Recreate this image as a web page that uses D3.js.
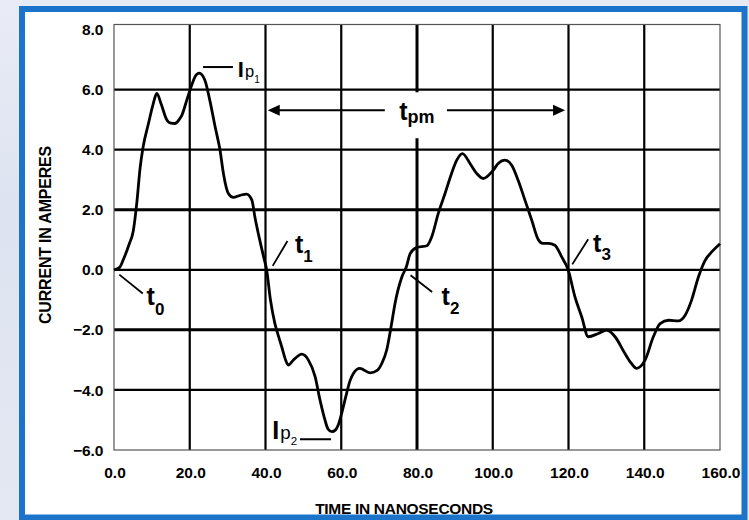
<!DOCTYPE html>
<meta charset="utf-8">

<!-- Load d3.js -->
<script src="https://cdn.jsdelivr.net/npm/d3@7/dist/d3.min.js"></script>

<style>
  body { margin: 0; background: #e7ebf5; }
  svg text { font-family: "Liberation Sans", Arial, sans-serif; fill: #000; }
</style>

<div id="my_dataviz"></div>

<script>

// waveform: time (ns) and current (A)
var timeNs = [0, 1.5, 2.5, 4, 5.1, 6, 6.9, 7.7, 9.1, 10.3, 11.3, 12.5, 13.9, 15, 16.1, 17.2, 17.9,
  19.2, 20.5, 21.5, 22.5, 24, 25.3, 26.7, 28, 28.9, 30.2, 31.5, 33.3, 35, 36.4, 37.2, 38.5, 39.6,
  40.3, 41.3, 42.5, 43.4, 44.3, 45.3, 46, 47.3, 49.6, 51.3, 53.1, 54.4, 55.7, 56.5, 57.5, 58.5,
  59.2, 60.1, 61.4, 62.3, 63.2, 64.9, 67.6, 69.5, 70.7, 72, 73.3, 74.2, 76, 77.2, 78.2, 79.9,
  82.6, 83.9, 85.6, 87.4, 89.1, 90.5, 92, 94, 95.8, 97.5, 100.1, 101.5, 103.2, 105, 106.7, 108.5,
  110.3, 112, 113.2, 114.7, 116.4, 118.2, 119.9, 121.7, 123.5, 125.2, 127.9, 130.1, 132.3, 134.9,
  136.5, 138, 140.2, 142.4, 144.2, 146.4, 149, 150.8, 152.5, 154.3, 156, 158, 160];
var currentA = [0, 0.08, 0.35, 0.85, 1.3, 2.2, 3.4, 4.1, 4.87, 5.5, 5.87, 5.5, 5.0, 4.88, 4.87, 5.0, 5.14,
  5.64, 6.14, 6.45, 6.55, 6.31, 5.64, 4.76, 3.98, 3.2, 2.54, 2.41, 2.48, 2.52, 2.32, 1.76, 0.98, 0.38,
  0, -1.0, -1.8, -2.2, -2.57, -3.0, -3.17, -3.01, -2.81, -3.0, -3.56, -4.34, -5.0, -5.3, -5.39, -5.33,
  -5.17, -4.78, -4.12, -3.7, -3.45, -3.28, -3.43, -3.35, -3.12, -2.67, -1.79, -1.12, -0.24, 0.1, 0.54, 0.74,
  0.8, 1.1, 1.87, 2.54, 3.2, 3.65, 3.87, 3.54, 3.2, 3.04, 3.31, 3.55, 3.65, 3.48, 2.98, 2.32,
  1.65, 1.01, 0.88, 0.88, 0.82, 0.43, 0, -0.9, -1.57, -2.23, -2.12, -2.01, -2.23, -2.79,
  -3.1, -3.28, -3.01, -2.23, -1.79, -1.68, -1.7, -1.51, -1.01, -0.24, 0.3, 0.62, 0.87];

var xTicks = [0, 20, 40, 60, 80, 100, 120, 140, 160];
var yTicks = [-6, -4, -2, 0, 2, 4, 6, 8];

// set the dimensions and margins of the graph
var W = 749, H = 520;
var margin = {top: 29.5, right: 29, bottom: 70, left: 114},
  width = W - margin.left - margin.right,
  height = H - margin.top - margin.bottom;

var xScale = d3.scaleLinear().domain([0, 160]).range([0, width]);
var yScale = d3.scaleLinear().domain([-6, 8]).range([height, 0]);

var root = d3.select("#my_dataviz")
  .append("svg")
    .attr("width", W)
    .attr("height", H);

// soft backdrop on the left strip
var grad = root.append("defs").append("linearGradient")
    .attr("id", "strip").attr("x1", 0).attr("y1", 0).attr("x2", 0).attr("y2", 1);
grad.append("stop").attr("offset", "0%").attr("stop-color", "#e9ecf6");
grad.append("stop").attr("offset", "40%").attr("stop-color", "#dde3f0");
grad.append("stop").attr("offset", "100%").attr("stop-color", "#e4e8f3");
root.append("rect")
    .attr("x", 0).attr("y", 0).attr("width", 22).attr("height", H)
    .style("fill", "url(#strip)");

// blue frame
root.append("rect")
    .attr("x", 22).attr("y", 9)
    .attr("width", 722.5).attr("height", 508.5)
    .style("fill", "#fff")
    .style("stroke", "#1b74c9")
    .style("stroke-width", 6);

var svg = root.append("g")
    .attr("transform", "translate(" + margin.left + "," + margin.top + ")");

// grid (a few lines come out heavier in the scan)
svg.selectAll(".vgrid")
  .data(xTicks.slice(1, -1))
  .enter().append("line")
    .attr("x1", function(d) { return xScale(d) })
    .attr("x2", function(d) { return xScale(d) })
    .attr("y1", -5).attr("y2", height)
    .style("stroke", "#000")
    .style("stroke-width", function(d) { return d == 80 ? 3 : 2.2 });

svg.selectAll(".hgrid")
  .data(yTicks.slice(1, -1))
  .enter().append("line")
    .attr("x1", 0).attr("x2", width)
    .attr("y1", function(d) { return yScale(d) })
    .attr("y2", function(d) { return yScale(d) })
    .style("stroke", "#000")
    .style("stroke-width", function(d) { return Math.abs(d) == 2 ? 3 : 2.2 });

svg.append("rect")
    .attr("x", 0).attr("y", -5)
    .attr("width", width).attr("height", height + 5)
    .style("fill", "none")
    .style("stroke", "#555")
    .style("stroke-width", 1.2);

// tick labels
svg.selectAll(".ylab")
  .data(yTicks)
  .enter().append("text")
    .attr("x", -10.5)
    .attr("y", function(d) { return yScale(d) })
    .attr("dy", "0.36em")
    .style("text-anchor", "end")
    .style("font-size", "15.5px")
    .style("font-weight", "bold")
    .text(function(d) { return d3.format(".1f")(d) });

svg.selectAll(".xlab")
  .data(xTicks)
  .enter().append("text")
    .attr("x", function(d) { return xScale(d) + 1 })
    .attr("y", height + 28)
    .style("text-anchor", "middle")
    .style("font-size", "15.5px")
    .style("font-weight", "bold")
    .text(function(d) { return d3.format(".1f")(d) });

// axis titles
svg.append("text")
    .attr("x", 290)
    .attr("y", height + 63.5)
    .style("text-anchor", "middle")
    .style("font-size", "15.5px")
    .style("font-weight", "bold")
    .style("letter-spacing", "-0.3px")
    .text("TIME IN NANOSECONDS");

svg.append("text")
    .attr("transform", "translate(" + (50.5 - margin.left) + "," + (235 - margin.top) + ") rotate(-90)")
    .style("text-anchor", "middle")
    .style("font-size", "16px")
    .style("font-weight", "bold")
    .style("letter-spacing", "-0.2px")
    .text("CURRENT IN AMPERES");

// t_pm arrow between the two zero crossings
var tpmY = yScale(5.31);
svg.append("rect")
    .attr("x", xScale(71.5)).attr("y", yScale(5.91))
    .attr("width", xScale(87.9) - xScale(71.5))
    .attr("height", yScale(4.38) - yScale(5.91))
    .style("fill", "#fff");

svg.append("line")
    .attr("x1", xScale(40.6) + 10).attr("x2", xScale(71.5))
    .attr("y1", tpmY).attr("y2", tpmY)
    .style("stroke", "#000").style("stroke-width", 2);
svg.append("line")
    .attr("x1", xScale(87.9)).attr("x2", xScale(119.1) - 10)
    .attr("y1", tpmY).attr("y2", tpmY)
    .style("stroke", "#000").style("stroke-width", 2);

[[40.6, 1], [119.1, -1]].forEach(function(a) {
  var tx = xScale(a[0]), s = a[1];
  svg.append("path")
      .attr("d", "M" + tx + "," + tpmY + "L" + (tx + 12 * s) + "," + (tpmY - 5.5) +
                 "L" + (tx + 12 * s) + "," + (tpmY + 5.5) + "Z")
      .style("fill", "#000");
});

var tpm = svg.append("text")
    .attr("x", xScale(75.3))
    .attr("y", yScale(4.98))
    .style("font-weight", "bold");
tpm.append("tspan").style("font-size", "25px").text("t");
tpm.append("tspan").style("font-size", "18px").attr("dy", 3).text("pm");

// the waveform
var line = d3.line()
    .x(function(d, i) { return xScale(timeNs[i]) })
    .y(function(d) { return yScale(d) })
    .curve(d3.curveMonotoneX);

svg.append("path")
    .datum(currentA)
    .attr("d", line)
    .style("fill", "none")
    .style("stroke", "#000")
    .style("stroke-width", 2.8)
    .style("stroke-linejoin", "round");

// zero crossing markers t0..t3
var crossings = [
  {sub: "0", from: [1.4, -0.16], to: [7.6, -0.79], at: [8.6, -1.18], dy: 10},
  {sub: "1", from: [41.9, 0.13], to: [45.8, 0.96], at: [47.8, 0.55], dy: 8.5},
  {sub: "2", from: [78.3, -0.18], to: [84.0, -0.74], at: [86.5, -1.18], dy: 9},
  {sub: "3", from: [121, 0.18], to: [125.2, 1.02], at: [126.5, 0.6], dy: 8}
];

crossings.forEach(function(c) {
  svg.append("line")
      .attr("x1", xScale(c.from[0])).attr("y1", yScale(c.from[1]))
      .attr("x2", xScale(c.to[0])).attr("y2", yScale(c.to[1]))
      .style("stroke", "#000").style("stroke-width", 1.8);
  var t = svg.append("text")
      .attr("x", xScale(c.at[0]))
      .attr("y", yScale(c.at[1]))
      .style("font-weight", "bold");
  t.append("tspan").style("font-size", "25px").text("t");
  t.append("tspan").style("font-size", "17px").attr("dy", c.dy).text(c.sub);
});

// peak markers Ip1, Ip2
var peaks = [
  {sub: "1", line: [23.5, 31.4, 6.75], at: [32.7, 6.41], size: 22},
  {sub: "2", line: [49.1, 57.3, -5.64], at: [41.8, -5.64], size: 25}
];

peaks.forEach(function(p) {
  svg.append("line")
      .attr("x1", xScale(p.line[0])).attr("x2", xScale(p.line[1]))
      .attr("y1", yScale(p.line[2])).attr("y2", yScale(p.line[2]))
      .style("stroke", "#000").style("stroke-width", 2);
  var t = svg.append("text")
      .attr("x", xScale(p.at[0]))
      .attr("y", yScale(p.at[1]));
  t.append("tspan").style("font-size", p.size + "px").style("font-weight", "bold").text("I");
  t.append("tspan").style("font-size", (p.size * 0.75) + "px").attr("dx", 1).text("p");
  t.append("tspan").style("font-size", (p.size * 0.46) + "px").attr("dy", p.size * 0.25).text(p.sub);
});

</script>
